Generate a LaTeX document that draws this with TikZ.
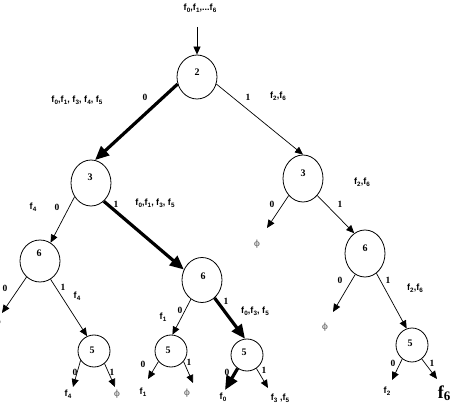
\documentclass[tikz,border=0pt]{standalone}
\usepackage{fontspec}
\setmainfont{Liberation Serif}
\newfontfamily\labsans{Liberation Sans}
\newfontfamily\phifont{DejaVu Serif}
\usetikzlibrary{arrows.meta,shapes.geometric}
\newcommand\fsub[1]{f\kern0.2pt\raisebox{-0.4ex}{\fontsize{6.3}{6.3}\selectfont #1}}
\begin{document}
\begin{tikzpicture}[x=1pt,y=-1pt,
  st/.style={ellipse,draw,line width=0.8pt,inner sep=0pt},
  num/.style={font=\fontsize{10}{10}\selectfont\bfseries,inner sep=0pt},
  bit/.style={font=\fontsize{9.5}{10}\selectfont\bfseries,inner sep=0pt},
  lab/.style={font=\labsans\fontsize{9}{9}\selectfont\bfseries,inner sep=0pt},
  phi/.style={font=\phifont\fontsize{8.5}{9}\selectfont,text=black!70,inner sep=0pt},
  edgethin/.style={line width=0.7pt,-{Triangle[length=8pt,width=7pt]}},
  edgebold/.style={line width=3.2pt,-{Triangle[length=14pt,width=12pt]}}]
\clip (0,0) rectangle (450,406);
% states
\node[st,minimum width=40,minimum height=44] (n2) at (197,77) {};
\node[st,minimum width=40,minimum height=46] (l3) at (91,183) {};
\node[st,minimum width=40,minimum height=47] (r3) at (303,178.5) {};
\node[st,minimum width=40,minimum height=42] (l6) at (40,261) {};
\node[st,minimum width=40,minimum height=45] (m6) at (202,280) {};
\node[st,minimum width=40,minimum height=47] (r6) at (365,253.5) {};
\node[st,minimum width=32,minimum height=32] (l5) at (94,351) {};
\node[st,minimum width=32,minimum height=32] (ml5) at (171,351) {};
\node[st,minimum width=32,minimum height=32] (mr5) at (247,355) {};
\node[st,minimum width=32,minimum height=34] (r5) at (412,345) {};
% digits in states
\node[num] (n2t) at (197,72) {2};
\node[num] (l3t) at (90,177) {3};
\node[num] (r3t) at (303,173) {3};
\node[num] (l6t) at (39,253) {6};
\node[num] (m6t) at (203,276) {6};
\node[num] (r6t) at (365,248) {6};
\node[num] (l5t) at (92,350) {5};
\node[num] (ml5t) at (168,350) {5};
\node[num] (mr5t) at (244,352) {5};
\node[num] (r5t) at (410,343) {5};
% free ends
\coordinate (top) at (197,27);
\coordinate (eR3a) at (267,228);
\coordinate (eL6a) at (2,313);
\coordinate (eL5a) at (73,387);
\coordinate (eL5b) at (115,387);
\coordinate (eML5a) at (148,379);
\coordinate (eML5b) at (193,383);
\coordinate (eMR5a) at (225,390);
\coordinate (eMR5b) at (268,388);
\coordinate (eR6a) at (333,312);
\coordinate (eR5a) at (392,380);
\coordinate (eR5b) at (437,379);
% connectors
\draw[edgethin] (top) -- (n2);
\draw[edgebold] (n2.200) -- (l3.80);
\draw[edgethin] (n2.340) -- (r3.90);
\draw[edgethin] (l3.220) -- (l6.60);
\draw[edgebold] (l3.305) -- (m6.150);
\draw[edgethin] (r3.230) -- (eR3a);
\draw[edgethin] (r3.310) -- (r6.118);
\draw[edgethin] (l6.230) -- (eL6a);
\draw[edgethin] (l6.300) -- (l5.115);
\draw[edgethin] (l5.215) -- (eL5a);
\draw[edgethin] (l5.310) -- (eL5b);
\draw[edgethin] (m6.240) -- (ml5.85);
\draw[edgebold] (m6.305) -- (mr5.97);
\draw[edgethin] (ml5.220) -- (eML5a);
\draw[edgethin] (ml5.320) -- (eML5b);
\draw[edgebold] (mr5.235) -- (eMR5a);
\draw[edgethin] (mr5.305) -- (eMR5b);
\draw[edgethin] (r6.245) -- (eR6a);
\draw[edgethin] (r6.300) -- (r5.108);
\draw[edgethin] (r5.235) -- (eR5a);
\draw[edgethin] (r5.305) -- (eR5b);
% bit labels
\node[bit] (b1) at (145,97) {0};
\node[bit] (b2) at (248,97) {1};
\node[bit] (b3) at (57,207) {0};
\node[bit] (b4) at (116,204) {1};
\node[bit] (b5) at (272,204) {0};
\node[bit] (b6) at (340,204) {1};
\node[bit] (b7) at (5,288) {0};
\node[bit] (b8) at (63,287) {1};
\node[bit] (b9) at (180,310) {0};
\node[bit] (b10) at (226,301) {1};
\node[bit] (b11) at (340,280) {0};
\node[bit] (b12) at (388,280) {1};
\node[bit] (b13) at (75,372) {0};
\node[bit] (b14) at (112,372) {1};
\node[bit] (b15) at (143,364) {0};
\node[bit] (b16) at (189,362) {1};
\node[bit] (b17) at (227,372) {0};
\node[bit] (b18) at (264,370) {1};
\node[bit] (b19) at (393,363) {0};
\node[bit] (b20) at (432,363) {1};
% set labels
\node[lab] (s0) at (200,8) {\fsub0,\fsub1,...\fsub6};
\node[lab] (s1) at (77,100) {\fsub0,\fsub1, \fsub3, \fsub4, \fsub5};
\node[lab] (s2) at (278,96) {\fsub2,\fsub6};
\node[lab] (s3) at (33,207) {\fsub4};
\node[lab] (s4) at (155,203) {\fsub0,\fsub1, \fsub3, \fsub5};
\node[lab] (s5) at (362,182) {\fsub2,\fsub6};
\node[lab] (s6) at (77,296) {\fsub4};
\node[lab] (s7) at (163,317) {\fsub1};
\node[lab] (s8) at (255,311) {\fsub0,\fsub3, \fsub5};
\node[lab] (s9) at (415,288) {\fsub2,\fsub6};
\node[lab] (s10) at (68,394) {\fsub4};
\node[lab] (s11) at (143,392) {\fsub1};
\node[lab] (s12) at (223,397) {\fsub0};
\node[lab] (s13) at (280,398) {\fsub3 ,\fsub5};
\node[lab] (s14) at (387,391) {\fsub2};
\node[inner sep=0pt,font=\fontsize{18}{18}\selectfont\bfseries] (s15) at (444,393) {f\raisebox{-0.3ex}{\fontsize{13}{13}\selectfont 6}};
% empty sets
\node[phi] (p1) at (257,244) {ϕ};
\node[phi] (p2) at (-2,322) {ϕ};
\node[phi] (p3) at (117,394) {ϕ};
\node[phi] (p4) at (187,393) {ϕ};
\node[phi] (p5) at (325,327) {ϕ};
\end{tikzpicture}
\end{document}
